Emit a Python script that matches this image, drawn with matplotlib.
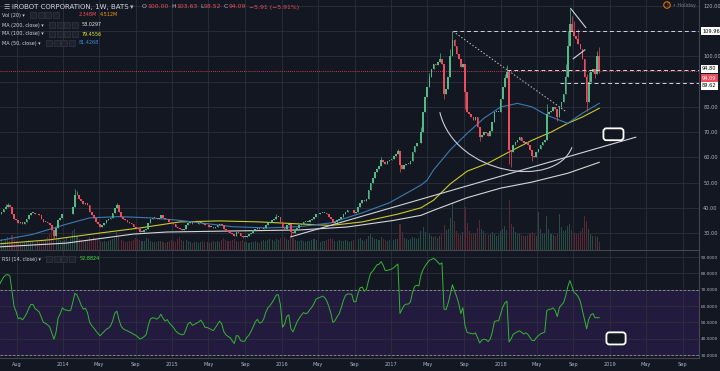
import matplotlib
matplotlib.use("Agg")
import matplotlib.pyplot as plt
import matplotlib.dates as mdates
import numpy as np
import pandas as pd
from matplotlib.colors import to_rgba
from matplotlib.patches import FancyBboxPatch, PathPatch, Rectangle, Ellipse
from matplotlib.path import Path

# weekly bars, first bar = week of 2013-06-03
first_open = 37.0
closes = [
    37.5, 38.5, 39.5, 40.5, 41, 40.5, 37.5, 35.5, 35, 34,
    34.5, 33.5, 34.5, 35.5, 37, 38, 38, 37.5, 37.5, 37,
    35.5, 34.5, 34.5, 34, 33, 31, 29, 32, 35, 36,
    37.5, 37.5, 37.5, 37.5, 37.5, 40.5, 45, 45, 43.5, 42.5,
    41.5, 42, 41, 38.5, 37, 36, 34.5, 33.5, 32.5, 33,
    34, 35, 35.5, 36, 38, 40, 41, 38.5, 36.5, 35.5,
    35, 34.5, 34, 33.5, 32.5, 32, 31.5, 30.5, 30.5, 31,
    31.5, 34, 35.5, 36, 36, 35.5, 36, 37, 36, 35.5,
    35.5, 34.5, 34, 33.5, 32.5, 32, 31.5, 31, 31.5, 33,
    34, 34.5, 33.5, 33.5, 33.5, 34, 34, 33.5, 33, 33,
    32.5, 32.5, 32, 32.5, 33, 33.5, 33, 31.5, 31, 30.5,
    30, 29.5, 29, 30.5, 30, 29, 28.5, 28.5, 29, 29.5,
    30, 31, 31.5, 32, 31.5, 31.5, 32, 33, 34, 34.5,
    35, 35.5, 36.5, 36.5, 34.5, 32, 31.5, 33, 33.5, 30.5,
    30, 31, 32, 33, 33.5, 34.5, 34.5, 34.5, 35, 35.5,
    36.5, 37.5, 37.5, 38, 38, 38, 37.5, 36.5, 35.5, 34,
    34.5, 35, 35.5, 36.5, 37.5, 38.5, 39, 39, 39, 38,
    38.5, 40.5, 42, 43, 42.5, 43.5, 47, 50, 52, 54,
    55.5, 56.5, 59, 58, 57.5, 58.5, 59, 59.5, 60.5, 61.5,
    62.5, 57, 55.5, 57, 57.5, 57.5, 58.5, 62, 64.5, 65.5,
    65.5, 70, 78, 84, 88, 92, 95, 97, 96.5, 98,
    99, 97, 85, 87, 92, 100, 106.5, 104, 101, 99,
    96, 97, 86, 78, 77, 76, 75, 76, 72, 68,
    69, 70, 69.5, 68.5, 70.5, 74, 78, 78, 78, 83,
    88, 91.5, 94, 63, 62, 65, 66, 67, 68, 66.5,
    65.5, 66, 65, 63, 60.5, 60, 62, 63.5, 65, 66,
    67, 77, 78, 78.5, 80, 79, 76, 80, 82, 85,
    92, 104, 113, 110, 108, 107, 105, 103, 99, 92,
    82, 90, 94, 95, 93, 100, 94.09,
]
high_wicks = {3: 41.5, 4: 42, 36: 47.5, 37: 46.5, 56: 42, 132: 37.5, 182: 60,
              190: 63.5, 201: 72, 205: 93.5, 210: 101.5, 215: 103, 216: 109.96,
              217: 107, 241: 93, 242: 96.5, 261: 81, 270: 97, 271: 110, 272: 119,
              273: 116, 274: 114, 276: 111, 280: 93, 281: 94, 285: 102, 286: 103.63}
low_wicks = {26: 27.5, 116: 28, 139: 28.5, 191: 54, 212: 83, 222: 79, 229: 66.5,
             243: 57.5, 244: 56, 254: 58.5, 266: 74.5, 280: 78.5, 284: 91.5, 286: 93.52}

volume_m = [
    2.5, 3.0, 2.2, 2.8, 3.5, 2.6, 4.2, 3.0, 2.4, 2.2,
    2.0, 2.3, 2.1, 2.6, 2.9, 2.5, 2.2, 2.0, 2.4, 2.1,
    2.6, 2.8, 3.2, 3.6, 4.8, 6.2, 5.0, 3.8, 3.4, 2.7,
    2.4, 2.9, 3.3, 2.6, 3.0, 5.2, 5.8, 4.0, 3.1, 2.8,
    2.6, 2.4, 2.9, 3.5, 3.1, 3.6, 3.0, 2.7, 2.4, 2.2,
    2.5, 2.3, 2.6, 2.8, 3.1, 3.4, 4.9, 3.8, 2.9, 2.5,
    2.3, 2.2, 2.6, 2.4, 2.9, 3.3, 3.0, 2.7, 2.5, 2.6,
    3.4, 3.1, 2.5, 2.3, 2.2, 2.1, 2.4, 2.6, 2.2, 2.0,
    2.3, 2.5, 2.8, 2.4, 2.2, 3.0, 3.5, 2.9, 2.6, 2.7,
    2.4, 2.2, 2.0, 2.3, 2.1, 1.9, 2.2, 2.5, 2.3, 2.1,
    2.0, 2.2, 2.4, 2.1, 2.6, 2.3, 2.8, 3.3, 2.9, 2.5,
    2.4, 2.7, 3.0, 2.6, 2.3, 2.5, 2.8, 2.2, 2.1, 2.0,
    2.3, 2.1, 2.4, 2.2, 2.0, 2.5, 2.7, 2.4, 2.9, 3.2,
    2.8, 2.6, 3.1, 2.7, 3.4, 4.6, 3.6, 3.0, 2.8, 4.1,
    3.3, 2.9, 2.6, 2.4, 2.7, 2.5, 2.3, 2.6, 2.4, 2.8,
    3.0, 2.7, 2.5, 2.3, 2.6, 2.4, 2.8, 3.1, 3.4, 3.0,
    2.6, 2.5, 2.7, 2.4, 2.6, 2.9, 2.5, 2.3, 2.4, 2.7,
    2.6, 3.0, 3.4, 2.8, 2.6, 3.1, 3.9, 4.4, 3.6, 3.2,
    3.0, 2.8, 3.5, 3.1, 2.7, 2.6, 2.9, 2.5, 2.7, 3.0,
    3.2, 7.2, 5.0, 3.4, 3.0, 2.8, 3.1, 3.6, 3.3, 3.0,
    3.4, 5.2, 6.4, 5.0, 4.4, 4.8, 4.0, 3.6, 3.8, 3.4,
    3.9, 4.6, 7.0, 5.5, 6.0, 9.0, 13.5, 8.0, 5.2, 4.6,
    4.2, 5.0, 12.0, 7.5, 5.4, 4.6, 4.4, 4.8, 6.2, 8.5,
    6.0, 5.2, 4.6, 4.2, 4.5, 5.0, 4.6, 3.9, 4.2, 5.4,
    6.0, 6.8, 5.5, 14.0, 7.2, 6.4, 5.0, 4.6, 4.8, 4.3,
    4.0, 3.8, 4.2, 4.5, 5.0, 4.4, 4.0, 10.5, 6.0, 4.8,
    4.4, 9.5, 6.0, 4.6, 4.2, 4.0, 4.8, 10.0, 6.5, 5.2,
    5.6, 6.8, 7.4, 5.6, 4.8, 4.4, 4.6, 5.2, 6.2, 9.5,
    8.0, 5.8, 4.6, 4.0, 3.8, 3.6, 2.35,
]

rsi = [
    73, 75.5, 77.7, 79, 79.3, 78.4, 69, 59.7, 56.4, 52.2,
    52.8, 51.5, 53.3, 55.4, 58.6, 61, 61, 58.5, 57.5, 56.4,
    53.1, 50, 49.4, 48.5, 47.2, 43.5, 39.7, 44, 52.8, 55.2,
    58.9, 57.7, 57.6, 57.1, 57.4, 62.3, 67.9, 66.7, 63.8, 60.5,
    58.1, 58.6, 55.9, 50.3, 48, 46.6, 44.8, 43.2, 41.8, 43.2,
    44.5, 45.8, 46.5, 47.8, 50.9, 55.6, 56.9, 51.8, 47.8, 46.1,
    45.4, 44.8, 44.2, 43.5, 42.7, 42.1, 41.1, 39.8, 40.4, 41.3,
    42.5, 48.2, 52.1, 52.8, 52.6, 52, 52.8, 55, 52.6, 50.8,
    51.7, 49.7, 48.2, 46.9, 44.9, 43.6, 42.9, 42.4, 42.8, 45.9,
    49.3, 50.1, 48.2, 48.8, 49.5, 50.2, 51.4, 49.6, 47, 46.9,
    46.3, 45.6, 45, 46.8, 48.8, 50.8, 49, 44.4, 42.4, 41.4,
    40.7, 38.7, 37.1, 41.9, 41.6, 38.8, 38.4, 38.6, 40.9, 42.2,
    44.5, 47.3, 50.3, 51.9, 49.6, 50, 52, 56.1, 58.8, 60.2,
    62.1, 64.3, 66.8, 66.9, 60.7, 47, 48.9, 53.7, 54.6, 46.1,
    44.2, 47.4, 50.5, 52.6, 54.5, 56, 55.3, 55.9, 57.8, 59.3,
    61.5, 64.3, 64.9, 65.4, 66.1, 65.3, 63.4, 60.1, 55.8, 50,
    51, 53.4, 55.3, 59, 63.4, 66.5, 67.4, 67.4, 67.2, 62.6,
    62.7, 67.9, 71.2, 71.6, 69.1, 70.2, 75.7, 80, 81.4, 83.3,
    85.2, 85.6, 87.2, 84.9, 81.7, 81.9, 82.2, 82.7, 83.4, 84.6,
    85.7, 55.5, 58, 60.5, 61.2, 61.2, 62.6, 68.5, 72, 72.7,
    72.3, 79, 82.3, 84.5, 86.4, 88, 88.6, 89.2, 88.3, 86.9,
    85.5, 86.5, 58.1, 57.9, 62, 67.3, 73, 69.3, 65.9, 61.6,
    55.4, 59, 48, 43.9, 43.5, 43.2, 42.9, 43.6, 40.6, 37.4,
    39.1, 39.7, 39.5, 38.2, 39.7, 43.9, 50.5, 51, 50.9, 55.2,
    59.3, 61.9, 63, 38, 40, 42.8, 43.5, 44.3, 44.9, 43.9,
    42.9, 43.6, 42.6, 40.7, 38.9, 38.8, 40.6, 41.9, 43, 43.5,
    44, 57.2, 57.9, 58.1, 58.9, 57.3, 53.5, 59.1, 60.7, 62.1,
    66.2, 71.7, 75.6, 72, 68.4, 67.4, 65.7, 62.7, 57.2, 51.7,
    46.1, 51.8, 54.6, 55.4, 52.8, 52.9, 52.88,
]

# moving averages (week index -> value)
ma200_weeks = [0, 32, 64, 80, 111, 143, 166, 188, 201, 207, 223, 239, 254, 271, 286]
ma200_vals = [24.5, 26, 29.6, 30.4, 30.8, 31.2, 32.4, 35, 37, 39, 44, 47.8, 50.2, 53.7, 58.03]
ma100_weeks = [0, 24, 48, 67, 86, 105, 124, 143, 158, 173, 190, 201, 207, 215, 223, 233, 242, 254, 263, 271, 278, 286]
ma100_vals = [25.7, 27.3, 30, 32, 34.4, 34.8, 34.4, 33.6, 33, 34.4, 37.5, 40, 43, 49.5, 54.5, 57.7, 61.7, 66.8, 70, 73.5, 76, 79.46]
ma50_weeks = [0, 16, 32, 43, 57, 72, 86, 96, 111, 128, 143, 158, 173, 186, 201, 204, 207, 210, 215, 223, 231, 239, 247, 254, 261, 271, 278, 286]
ma50_vals = [27, 29.5, 33.5, 36, 36.5, 36, 35, 34, 32.5, 32, 32.5, 34, 38, 42, 49, 51, 55, 58, 63, 69.5, 75.5, 80, 81.4, 80, 76.7, 73.5, 77.5, 81.43]

tick_dates = ['2013-08-01', '2014-01-01', '2014-05-01', '2014-09-01', '2015-01-01', '2015-05-01',
              '2015-09-01', '2016-01-01', '2016-05-01', '2016-09-01', '2017-01-01', '2017-05-01',
              '2017-09-01', '2018-01-01', '2018-05-01', '2018-09-01', '2019-01-01', '2019-05-01',
              '2019-09-01']
tick_labels = ['Aug', '2014', 'May', 'Sep', '2015', 'May', 'Sep', '2016', 'May', 'Sep', '2017',
               'May', 'Sep', '2018', 'May', 'Sep', '2019', 'May', 'Sep']

W, H = 720, 371
BG = '#131722'
GRID = '#2c303c'
TXT = '#b2b5be'
WHITE = '#d1d4dc'
UP = '#53b987'
DOWN = '#eb4d5c'
LINE = '#d1d4dc'


def d(s):
    return mdates.date2num(pd.Timestamp(s))


dates = pd.date_range('2013-06-03', periods=len(closes), freq='7D')
xs = mdates.date2num(dates)
c = np.array(closes, dtype=float)
o = np.r_[first_open, c[:-1]]
hi = np.maximum(o, c)
lo = np.minimum(o, c)
for k, v in high_wicks.items():
    hi[k] = v
for k, v in low_wicks.items():
    lo[k] = v
up = c >= o
cols = np.where(up, UP, DOWN)

fig = plt.figure(figsize=(W / 100, H / 100), dpi=100, facecolor=BG)
ax = fig.add_axes([0, 1 - 250 / H, 699 / W, 250 / H])
axr = fig.add_axes([0, 1 - 358 / H, 699 / W, 107 / H], sharex=ax)

# volume overlay behind the candles
vol = ax.twinx()
vol.set_zorder(0)
ax.set_zorder(1)
ax.patch.set_visible(False)
vol.set_facecolor(BG)
vcols = [to_rgba(UP if u else DOWN, 0.33) for u in up]
vol.bar(xs, volume_m, width=3.5, color=vcols, linewidth=0)
vol.set_ylim(0, 70)
vol.set_yticks([])
for s in vol.spines.values():
    s.set_visible(False)

# candles
ax.vlines(xs, lo, hi, colors=cols, linewidth=0.5, zorder=3)
ax.bar(xs, np.maximum(np.abs(c - o), 0.2), bottom=np.minimum(o, c), width=5.5,
       color=cols, linewidth=0, zorder=4)

# moving averages
ax.plot(dates[ma200_weeks], ma200_vals, color='#d6d6d6', lw=0.8, zorder=2)
ax.plot(dates[ma100_weeks], ma100_vals, color='#c9c92c', lw=0.8, zorder=2)
ax.plot(dates[ma50_weeks], ma50_vals, color='#3a7bb0', lw=0.8, zorder=2)

# current price line
ax.axhline(94.09, color=DOWN, lw=0.6, ls=(0, (1, 1.5)), zorder=2)

# drawings
ax.plot([d('2017-07-26'), d('2019-10-30')], [109.96, 109.96], color=LINE, lw=0.7, ls=(0, (4, 3)), zorder=5)
ax.plot([d('2018-01-22'), d('2019-10-30')], [94.80, 94.80], color=LINE, lw=0.7, ls=(0, (4, 3)), zorder=5)
ax.plot([d('2018-07-18'), d('2019-10-30')], [89.62, 89.62], color=LINE, lw=0.7, ls=(0, (4, 3)), zorder=5)
ax.plot([d('2017-07-26'), d('2018-08-10')], [109.96, 77.9], color='#c0c3cc', lw=0.7, ls=(0, (1.5, 2)), zorder=5)
ax.plot([d('2016-02-01'), d('2019-03-28')], [28.5, 68.0], color=LINE, lw=0.8, zorder=5)
ax.plot([d('2018-08-23'), d('2018-10-12')], [119.0, 111.5], color=LINE, lw=0.8, zorder=5)
ax.plot([d('2018-08-31'), d('2018-10-09')], [99.1, 102.6], color=LINE, lw=0.8, zorder=5)
arc = Path([(d('2017-06-12'), 77.9), (d('2017-08-01'), 53.0), (d('2018-07-01'), 47.0), (d('2018-08-27'), 64.0)],
           [Path.MOVETO, Path.CURVE4, Path.CURVE4, Path.CURVE4])
ax.add_patch(PathPatch(arc, fc='none', ec='#c9ccd4', lw=0.8, zorder=5))
ax.add_patch(FancyBboxPatch((d('2018-12-10'), 66.8), 67, 4.7, boxstyle='round,pad=0,rounding_size=10',
                            mutation_aspect=0.1188, fc=BG, ec='white', lw=1.3, zorder=6))
axr.add_patch(FancyBboxPatch((d('2018-12-20'), 36.5), 64, 7.4, boxstyle='round,pad=0,rounding_size=10',
                             mutation_aspect=0.1835, fc=BG, ec='white', lw=1.3, zorder=6))

# RSI pane
axr.set_facecolor(BG)
axr.axhspan(30, 70, color='#231b3d', zorder=0)
axr.axhline(70, color='#8f939e', lw=0.6, ls=(0, (3, 2)), zorder=1)
axr.axhline(30, color='#8f939e', lw=0.6, ls=(0, (3, 2)), zorder=1)
axr.plot(xs, rsi, color='#35b535', lw=0.7, zorder=3)

# axes styling
ax.set_xlim(d('2013-06-05'), d('2019-10-25'))
ax.set_ylim(23.26, 122.4)
axr.set_ylim(28.2, 93.7)
tick_pos = [d(t) for t in tick_dates]
for a in (ax, axr):
    a.set_xticks(tick_pos)
    a.grid(True, color=GRID, lw=0.6, zorder=0)
    a.set_axisbelow(True)
    a.yaxis.tick_right()
    a.tick_params(length=0, labelsize=3.6, labelcolor=TXT, pad=3)
    for name, s in a.spines.items():
        s.set_visible(name in ('right', 'bottom'))
        s.set_color('#434651')
        s.set_linewidth(0.8)
ax.tick_params(labelbottom=False)
axr.tick_params(axis='y', labelsize=3.1, pad=1.5)
axr.set_xticklabels(tick_labels)
price_ticks = list(range(30, 121, 10))
ax.set_yticks(price_ticks)
ax.set_yticklabels(['' if t in (90, 110) else f'{t:.2f}' for t in price_ticks])
rsi_ticks = list(range(30, 91, 10))
axr.set_yticks(rsi_ticks)
axr.set_yticklabels([f'{t:.4f}' for t in rsi_ticks])

# right-axis level labels
for val, text, fc, tc, dy in [(109.96, '109.96', 'white', 'black', 0), (94.80, '94.80', 'white', 'black', 0.5),
                              (94.09, '94.09', DOWN, 'white', -4.8), (89.62, '89.62', 'white', 'black', -2.3)]:
    ax.annotate(text, xy=(1, val), xycoords=('axes fraction', 'data'), xytext=(2.2, dy),
                textcoords='offset points', ha='left', va='center', fontsize=3.6, color=tc,
                bbox=dict(boxstyle='square,pad=0.3', fc=fc, ec='none'), annotation_clip=False, zorder=10)


# legend / header
def put_row(x, y, pieces):
    r = fig.canvas.get_renderer()
    for s, color, gap, size in pieces:
        t = fig.text(x / W, 1 - y / H, s, color=color, fontsize=size, va='center', ha='left')
        x = t.get_window_extent(r).x1 + gap


def buttons(x, y):
    for k in range(4):
        fig.patches.append(Rectangle(((x + k * 7.5) / W, 1 - (y + 3) / H), 6 / W, 6 / H,
                                     transform=fig.transFigure, fc='#1e222d', ec='#3a3e4a', lw=0.4))


put_row(3, 7, [('☰', TXT, 2.5, 5.0), ('IROBOT CORPORATION, 1W, BATS', WHITE, 2, 5.0), ('▾', TXT, 8, 5.0),
               ('O', TXT, 0.5, 4.4), ('100.00', DOWN, 2.5, 4.4), ('H', TXT, 0.5, 4.4), ('103.63', DOWN, 2.5, 4.4),
               ('L', TXT, 0.5, 4.4), ('93.52', DOWN, 2.5, 4.4), ('C', TXT, 0.5, 4.4), ('94.09', DOWN, 2.5, 4.4),
               ('−5.91 (−5.91%)', DOWN, 0, 4.4)])

legend_rows = [('Vol (20) ▾', 15, 30, [('2.348M', DOWN, 79), ('4.512M', '#ff9800', 100)]),
               ('MA (200, close) ▾', 25, 49, [('58.0297', '#e6e6e6', 82)]),
               ('MA (100, close) ▾', 34, 49, [('79.4556', '#e8e830', 82)]),
               ('MA (50, close) ▾', 43, 46, [('81.4268', '#3f8fd0', 79)]),
               ('RSI (14, close) ▾', 259, 46, [('52.8824', '#3ee03e', 80)])]
for name, y, bx, vals in legend_rows:
    fig.text(2 / W, 1 - y / H, name, color=WHITE, fontsize=3.5, va='center', ha='left')
    buttons(bx, y)
    for s, col, vx in vals:
        fig.text(vx / W, 1 - y / H, s, color=col, fontsize=3.5, va='center', ha='left')

# holiday marker
fig.patches.append(Ellipse((667 / W, 1 - 5 / H), 6.5 / W, 6.5 / H, transform=fig.transFigure,
                           fc='none', ec='#f57c00', lw=0.7))
fig.text(667 / W, 1 - 5 / H, '!', color='#f57c00', fontsize=3.5, ha='center', va='center')
fig.text(673 / W, 1 - 5 / H, '• Holiday', color='#787b86', fontsize=3.5, ha='left', va='center')

fig.savefig('out.png', dpi=100, facecolor=BG)
